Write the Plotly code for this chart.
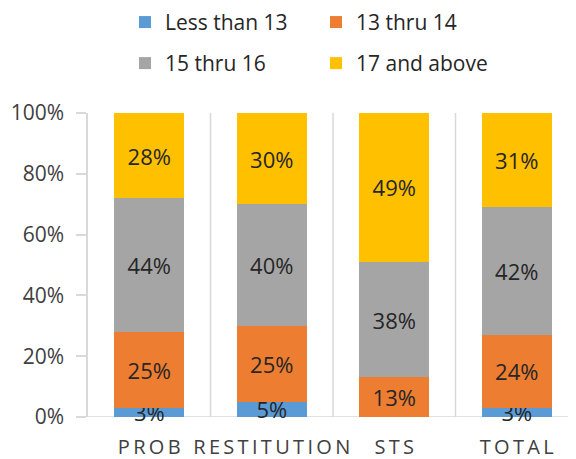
import plotly.graph_objects as go

categories = ["PROB", "RESTITUTION", "STS", "TOTAL"]
series_names = ["Less than 13", "13 thru 14", "15 thru 16", "17 and above"]
less_than_13 = [3, 5, 0, 3]
thru_13_14 = [25, 25, 13, 24]
thru_15_16 = [44, 40, 38, 42]
above_17 = [28, 30, 49, 31]
colors = ["#5B9BD5", "#ED7D31", "#A5A5A5", "#FFC000"]
y_ticks = [0, 20, 40, 60, 80, 100]

FONT = "Open Sans"
spaced = ["\u2009".join(c) for c in categories]

fig = go.Figure()
all_series = [less_than_13, thru_13_14, thru_15_16, above_17]
for i, (name, vals, col) in enumerate(zip(series_names, all_series, colors)):
    fig.add_trace(go.Bar(
        x=spaced, y=vals, name=name,
        marker=dict(color=col, line=dict(width=0)),
        text=[f"{v}%" if v else "" for v in vals],
        textposition="inside", insidetextanchor="middle",
        textfont=dict(size=22, color="#262626", family=FONT),
        cliponaxis=False,
        legend="legend" if i < 2 else "legend2",
        hoverinfo="skip",
    ))

# category separators
for k in range(1, len(categories) + 1):
    fig.add_shape(type="line", xref="x", yref="y", x0=k - 0.5, x1=k - 0.5, y0=0, y1=100,
                  line=dict(color="#D9D9D9", width=1.5), layer="below")
# baseline
fig.add_shape(type="line", xref="paper", yref="y", x0=0, x1=1, y0=0, y1=0,
              line=dict(color="#D9D9D9", width=1.5), layer="below")

legend_common = dict(orientation="h", font=dict(size=21, family=FONT, color="#262626"),
                     bgcolor="rgba(0,0,0,0)", entrywidth=146, entrywidthmode="pixels",
                     itemclick=False, itemdoubleclick=False, xanchor="left", yanchor="middle",
                     traceorder="normal")
fig.update_layout(
    width=576, height=459,
    margin=dict(l=80, r=6, t=105, b=50, autoexpand=False),
    barmode="stack", bargap=0.43,
    plot_bgcolor="white", paper_bgcolor="white",
    font=dict(family=FONT, size=20, color="#595959"),
    uniformtext=dict(mode="show", minsize=22),
    legend=dict(**legend_common, x=0.0755, y=1.298, xref="paper", yref="paper"),
    legend2=dict(**legend_common, x=0.0755, y=1.163, xref="paper", yref="paper"),
    xaxis=dict(showgrid=False, showline=False, ticks="", tickfont=dict(size=20, color="#404040"),
               range=[-0.5, 3.5], ticklabelstandoff=16),
    yaxis=dict(range=[0, 100], tickvals=y_ticks, ticktext=[f"{t}%" for t in y_ticks],
               showgrid=False, zeroline=False, showline=True, linecolor="#D9D9D9", linewidth=1.5,
               ticks="outside", ticklen=10, tickcolor="#D9D9D9", tickwidth=1.5,
               tickfont=dict(size=21, color="#404040"), ticklabelstandoff=8),
)

fig.write_html("out.html")
